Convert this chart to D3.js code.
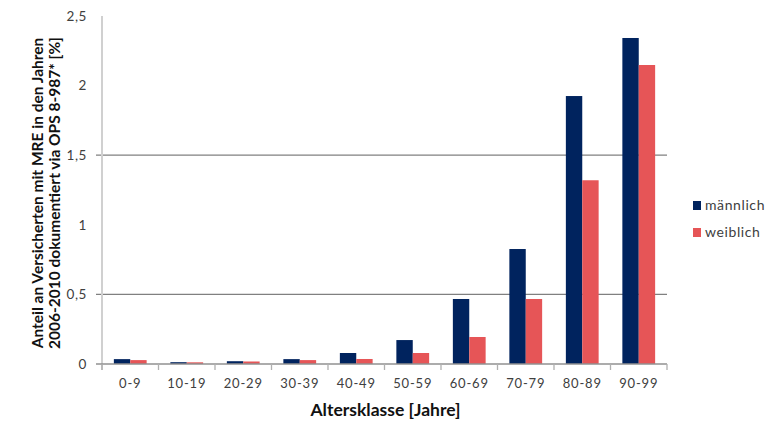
<!DOCTYPE html>
<html>
<head>
<meta charset="utf-8">
<script src="https://cdn.jsdelivr.net/npm/d3@7"></script>
<style>
  body { margin: 0; background: #fff; }
  text { font-family: Lato, "Open Sans", sans-serif; }
</style>
</head>
<body>
<div id="chart"></div>
<script>
// data
const categories = ["0-9", "10-19", "20-29", "30-39", "40-49", "50-59", "60-69", "70-79", "80-89", "90-99"];
const seriesNames = ["männlich", "weiblich"];
const maennlich = [0.035, 0.013, 0.02, 0.035, 0.079, 0.172, 0.467, 0.826, 1.925, 2.342];
const weiblich = [0.028, 0.012, 0.018, 0.028, 0.036, 0.079, 0.194, 0.467, 1.32, 2.148];
const yTicks = [0, 0.5, 1, 1.5, 2, 2.5];
const gridTicks = [0.5, 1.5];
const colors = ["#00235e", "#e65557"];

const W = 767, H = 427;
const margin = { top: 16, right: 100, bottom: 63, left: 102 };
const width = W - margin.left - margin.right,
      height = H - margin.top - margin.bottom;

const svg = d3.select("#chart").append("svg")
    .attr("width", W).attr("height", H);
const g = svg.append("g")
    .attr("transform", `translate(${margin.left},${margin.top})`);

const x = d3.scaleBand().domain(categories).range([0, width]);
const xs = d3.scaleBand().domain(seriesNames)
    .range([x.bandwidth() * 0.21, x.bandwidth() * 0.79]);
const y = d3.scaleLinear().domain([0, 2.5]).range([height, 0]);

const fmt = d => String(d).replace(".", ",");

// gridlines
g.selectAll(".grid").data(gridTicks).join("line")
    .attr("x1", -6).attr("x2", width)
    .attr("y1", d => y(d)).attr("y2", d => y(d))
    .attr("stroke", "#808080").attr("stroke-width", 1.3);

// y axis line
g.append("line").attr("x1", 0).attr("x2", 0)
    .attr("y1", 0).attr("y2", height + 6)
    .attr("stroke", "#d0d0d0").attr("stroke-width", 2);

// y tick labels
g.selectAll(".ylab").data(yTicks).join("text")
    .attr("x", -15).attr("y", d => y(d)).attr("dy", "0.35em")
    .attr("text-anchor", "end")
    .attr("font-size", 13.5).attr("letter-spacing", 0.6).attr("fill", "#404040")
    .text(fmt);

// bars
const data = categories.map((c, i) => ({ cat: c, vals: [maennlich[i], weiblich[i]] }));
const grp = g.selectAll(".grp").data(data).join("g")
    .attr("transform", d => `translate(${x(d.cat)},0)`);
grp.selectAll("rect").data(d => d.vals.map((v, j) => ({ name: seriesNames[j], v, j })))
    .join("rect")
    .attr("x", d => xs(d.name))
    .attr("width", xs.bandwidth())
    .attr("y", d => y(d.v))
    .attr("height", d => height - y(d.v))
    .attr("fill", d => colors[d.j]);

// x baseline and ticks
const xAxis = g.append("g").attr("transform", `translate(0,${height})`);
xAxis.append("line").attr("x1", -6).attr("x2", width)
    .attr("stroke", "#909090").attr("stroke-width", 1.3);
xAxis.selectAll(".tk").data(categories.concat(["end"])).join("line")
    .attr("x1", (d, i) => i * x.step()).attr("x2", (d, i) => i * x.step())
    .attr("y1", 0).attr("y2", 6)
    .attr("stroke", "#b0b0b0").attr("stroke-width", 1.3);
xAxis.selectAll(".xlab").data(categories).join("text")
    .attr("x", d => x(d) + x.bandwidth() / 2).attr("y", 24)
    .attr("text-anchor", "middle")
    .attr("font-size", 13).attr("letter-spacing", 0.8).attr("fill", "#404040")
    .text(d => d);

// axis titles
svg.append("text")
    .attr("x", margin.left + width / 2 + 1).attr("y", 416)
    .attr("text-anchor", "middle")
    .attr("font-size", 17.5).attr("font-weight", "bold").attr("fill", "#111")
    .text("Altersklasse [Jahre]");

const yt = svg.append("text")
    .attr("transform", "translate(0,193) rotate(-90)")
    .attr("text-anchor", "middle")
    .attr("font-size", 15.5).attr("font-weight", "bold").attr("fill", "#111");
yt.append("tspan").attr("x", 0).attr("y", 43)
    .text("Anteil an Versicherten mit MRE in den Jahren");
yt.append("tspan").attr("x", 0).attr("y", 60)
    .text("2006-2010 dokumentiert via OPS 8-987* [%]");

// legend
const leg = svg.append("g").attr("transform", "translate(693,201)");
const li = leg.selectAll("g").data(seriesNames).join("g")
    .attr("transform", (d, i) => `translate(0,${i * 27})`);
li.append("rect").attr("width", 8).attr("height", 9)
    .attr("fill", (d, i) => colors[i]);
li.append("text").attr("x", 12).attr("y", 4.5).attr("dy", "0.35em")
    .attr("font-size", 14).attr("letter-spacing", 0.6).attr("fill", "#404040")
    .text(d => d);
</script>
</body>
</html>
